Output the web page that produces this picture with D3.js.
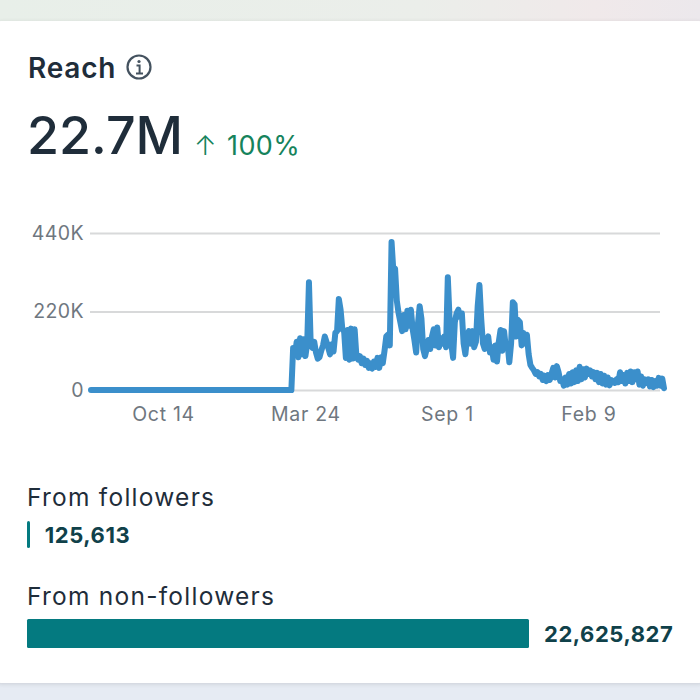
<!DOCTYPE html>
<html><head><meta charset="utf-8">
<script src="https://cdnjs.cloudflare.com/ajax/libs/d3/7.8.5/d3.min.js"></script>
<style>html,body{margin:0;padding:0;background:#fff}svg{display:block}text{font-family:Inter,"Noto Sans",sans-serif}</style>
</head><body><svg id="c" width="700" height="700"></svg>
<script>
const title = "Reach";
const headline = "22.7M";
const changeArrow = "↑";
const changeLabel = "100%";
const yTicks = [0, 220000, 440000];
const yTickLabels = ["0", "220K", "440K"];
const xTickDates = ["2023-10-14", "2024-03-24", "2024-09-01", "2025-02-09"];
const xTickLabels = ["Oct 14", "Mar 24", "Sep 1", "Feb 9"];
const flatStart = "2023-07-24";
const activeStart = "2024-03-10";
// reach in thousands, one reading every 2 days from activeStart
const activeReach = [118,98,135,92,145,100,142,95,130,302,128,118,135,105,88,92,110,125,150,135,118,100,128,108,160,165,255,225,170,165,90,168,85,172,88,170,95,85,95,75,88,70,82,62,75,60,80,65,90,62,92,75,110,150,155,125,415,335,340,250,215,190,165,210,170,222,180,225,170,140,105,185,235,200,115,95,115,140,115,150,170,125,175,120,145,130,150,120,316,200,130,90,190,215,225,205,215,130,100,150,165,130,165,120,135,235,294,200,130,115,140,150,105,120,85,125,80,135,168,110,165,120,130,78,130,246,240,150,196,190,125,160,130,155,100,70,62,55,45,50,38,45,28,40,25,42,28,45,62,35,67,50,25,30,12,35,15,45,18,50,22,55,25,65,30,58,35,60,45,55,38,50,30,48,22,45,18,40,15,35,13,28,22,20,30,22,50,25,42,18,48,25,52,22,50,30,52,15,38,12,30,20,30,10,28,8,25,12,34,12,32,5];
const barLabels = ["From followers", "From non-followers"];
const barValues = [125613, 22625827];

const parse = d3.utcParse("%Y-%m-%d");
const svg = d3.select("#c");
const defs = svg.append("defs");
const g = defs.append("linearGradient").attr("id","bgTop");
[["0%","#e8efe9"],["60%","#ebeeea"],["85%","#f0e9ea"],["100%","#ece8ec"]].forEach(s=>g.append("stop").attr("offset",s[0]).attr("stop-color",s[1]));
const f = defs.append("filter").attr("id","sh").attr("x","-5%").attr("y","-5%").attr("width","110%").attr("height","110%");
f.append("feDropShadow").attr("dx",0).attr("dy",1).attr("stdDeviation",2).attr("flood-color","#000").attr("flood-opacity",0.12);

svg.append("rect").attr("width",700).attr("height",700).attr("fill","#e6ebf3");
svg.append("rect").attr("width",700).attr("height",60).attr("fill","url(#bgTop)");
svg.append("rect").attr("x",-6).attr("y",21).attr("width",712).attr("height",662).attr("rx",7).attr("fill","#fff").attr("filter","url(#sh)");

svg.append("text").attr("x",28).attr("y",78).attr("font-size",28).attr("letter-spacing",0.8).attr("font-weight",600).attr("fill","#1f2d3a").text(title);
const info = svg.append("g").attr("transform","translate(139,67)");
info.append("circle").attr("r",11.5).attr("fill","none").attr("stroke","#44525f").attr("stroke-width",2.2);
info.append("circle").attr("cy",-5.5).attr("r",1.6).attr("fill","#44525f");
info.append("path").attr("d","M-2.5,-1.5H0.6V6M-3,6.4H4").attr("fill","none").attr("stroke","#44525f").attr("stroke-width",2);
svg.append("text").attr("x",27).attr("y",154).attr("font-size",52).attr("font-weight",500).attr("fill","#1f2d3a").text(headline);
svg.append("text").attr("x",194).attr("y",155).attr("font-size",27).attr("font-weight",300).attr("fill","#16835c").text(changeArrow);
svg.append("text").attr("x",227).attr("y",155).attr("font-size",27).attr("font-weight",400).attr("letter-spacing",0.4).attr("fill","#16835c").text(changeLabel);

const flatDates = d3.utcDay.range(parse(flatStart), parse(activeStart), 2);
const activeDates = activeReach.map((_,i)=>d3.utcDay.offset(parse(activeStart), i*2));
const series = flatDates.map(d=>({d,v:0})).concat(activeReach.map((v,i)=>({d:activeDates[i],v:v*1000})));

const x = d3.scaleUtc().domain([parse(flatStart), activeDates[activeDates.length-1]]).range([91,664]);
const y = d3.scaleLinear().domain([0,440000]).range([390,233]);

const yAxis = d3.axisLeft(y).tickValues(yTicks).tickFormat((d,i)=>yTickLabels[i]).tickSize(-570).tickPadding(6);
const ya = svg.append("g").attr("transform","translate(90,0)").call(yAxis);
ya.select(".domain").remove();
ya.selectAll("line").attr("stroke","#d8d9da").attr("stroke-width",2);
ya.selectAll("text").attr("font-size",19.5).attr("letter-spacing",0.4).attr("fill","#6f7780");

const xAxis = d3.axisBottom(x).tickValues(xTickDates.map(parse)).tickFormat((d,i)=>xTickLabels[i]).tickSize(0).tickPadding(15);
const xa = svg.append("g").attr("transform","translate(0,392)").call(xAxis);
xa.select(".domain").remove();
xa.selectAll("text").attr("font-size",19.5).attr("letter-spacing",0.7).attr("fill","#6f7780");

svg.append("path").datum(series).attr("fill","none").attr("stroke","#3b8fcb").attr("stroke-width",6).attr("stroke-linejoin","round").attr("stroke-linecap","round")
  .attr("d",d3.line().x(d=>x(d.d)).y(d=>y(d.v)));

const bx = d3.scaleLinear().domain([0,barValues[1]]).range([27,529]);
const labelYs = [506,605], barYs = [521,619], barHs = [27,29];
barLabels.forEach((lab,i)=>{
  svg.append("text").attr("x",27).attr("y",labelYs[i]).attr("font-size",24.5).attr("letter-spacing",1.25).attr("fill","#1f2d3a").text(lab);
  svg.append("rect").attr("x",bx(0)).attr("y",barYs[i]).attr("width",Math.max(bx(barValues[i])-bx(0),3)).attr("height",barHs[i]).attr("rx",1.5).attr("fill","#047a80");
  svg.append("text").attr("x",bx(barValues[i])+15).attr("y",barYs[i]+barHs[i]/2+8).attr("font-size",22).attr("letter-spacing",0.55).attr("font-weight",700).attr("fill","#10414a").text(d3.format(",")(barValues[i]));
});
</script></body></html>
